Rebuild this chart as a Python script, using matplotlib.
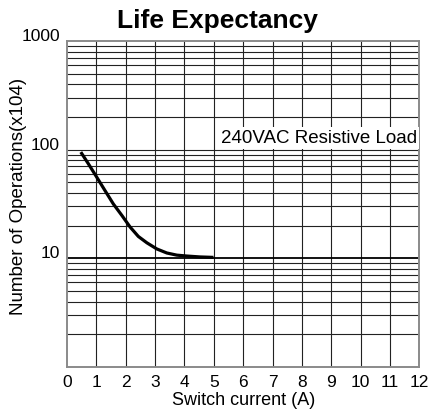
import matplotlib
matplotlib.use("Agg")
import matplotlib.pyplot as plt
from matplotlib.ticker import FixedLocator, NullFormatter
import matplotlib.transforms as mtransforms

plt.rcParams['font.family'] = ['Liberation Sans', 'DejaVu Sans']

# Data
current_a = [0.47, 0.73, 1.01, 1.30, 1.58, 1.87, 2.15, 2.43, 2.72, 3.06, 3.40, 3.74, 4.08, 4.53, 4.99]
operations = [95, 74, 56, 41.8, 31.6, 24.8, 19.4, 15.9, 13.9, 12.2, 11.2, 10.7, 10.5, 10.3, 10.2]

x_ticks = list(range(0, 13))
y_ticks = [10, 100, 1000]
y_tick_labels = ["10", "100", "1000"]

fig = plt.figure(figsize=(4.31, 4.19), dpi=100)
ax = fig.add_axes([67/431, 1-367/419, (419.3-67)/431, (367-41)/419])

ax.set_yscale('log')
ax.set_xlim(0, 12)
ax.set_ylim(1, 1000)

# grid
for xv in x_ticks[1:-1]:
    ax.axvline(xv, color='#222222', lw=0.8, zorder=1)
minor_vals = [m * 10**d for d in range(0, 3) for m in range(2, 10)]
for yv in minor_vals + [100]:
    ax.axhline(yv, color='#222222', lw=0.8, zorder=1)
ax.axhline(10, color='black', lw=1.3, zorder=2)

ax.plot(current_a, operations, color='black', lw=2.3, solid_capstyle='butt', zorder=4)

ax.set_xticks(x_ticks)
ax.set_xticklabels([str(v) for v in x_ticks])
ax.yaxis.set_major_locator(FixedLocator(y_ticks))
ax.set_yticklabels(y_tick_labels)
ax.yaxis.set_minor_locator(FixedLocator([]))
ax.yaxis.set_minor_formatter(NullFormatter())
ax.tick_params(axis='both', length=0, labelsize=12.5, colors='black')
ax.tick_params(axis='x', pad=6)
ax.tick_params(axis='y', pad=5)
offset = mtransforms.ScaledTranslation(0, 6/100, fig.dpi_scale_trans)
for lab in ax.get_yticklabels():
    lab.set_transform(lab.get_transform() + offset)

for sp in ax.spines.values():
    sp.set_color('#8a8a8a')
    sp.set_linewidth(1.4)

ax.set_xlabel("Switch current (A)", fontsize=13, labelpad=1)
ax.set_ylabel("Number of Operations(x104)", fontsize=13.5)
ax.yaxis.label.set_va('center')
ax.yaxis.set_label_coords(-0.139, 0.523)

ax.text(11.93, 128, "240VAC Resistive Load", ha='right', va='center', fontsize=13.5,
        zorder=5, bbox=dict(boxstyle='square,pad=0.12', facecolor='white', edgecolor='none'))

fig.text(217/431, 1-28/419, "Life Expectancy", ha='center', va='baseline', fontsize=19, fontweight='bold')

fig.savefig("out.png", dpi=100)
